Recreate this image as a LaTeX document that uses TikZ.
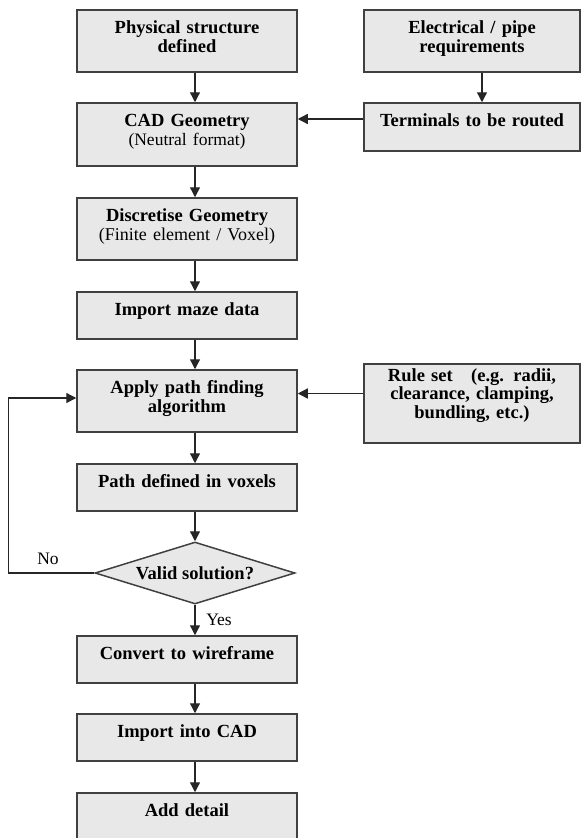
\documentclass[tikz,border=0pt]{standalone}
\usepackage{fontspec}
\setmainfont{Liberation Serif}
\usetikzlibrary{arrows.meta,shapes.geometric}
\definecolor{boxfill}{RGB}{232,232,232}
\definecolor{boxline}{RGB}{64,64,64}

\begin{document}
\begin{tikzpicture}[x=1pt,y=-1pt]
  \tikzstyle{box}=[draw=boxline, fill=boxfill, line width=1.5pt, text width=220pt, align=center, inner sep=0pt, text height=23pt, font=\fontsize{18.5}{19.5}\selectfont\bfseries]
  \tikzstyle{decision}=[diamond, draw=boxline, fill=boxfill, line width=1.5pt, aspect=3.2, minimum width=200pt, minimum height=62pt, inner sep=0pt, font=\fontsize{18.5}{19.5}\selectfont\bfseries]
  \tikzstyle{lbl}=[inner sep=0pt, font=\fontsize{17.5}{19.5}\selectfont]
  \tikzstyle{arr}=[-{Triangle[width=10pt,length=10pt]}, line width=1.3pt, black!85]

  \useasboundingbox (0,0) rectangle (581,838);

  % main column
  \node[box, text depth=39pt] (phys) at (187,41) {Physical structure\\defined};
  \node[box, text depth=40pt] (cad) at (187,134.5) {CAD Geometry\\{\mdseries\fontsize{17.5}{19.5}\selectfont (Neutral format)}};
  \node[box, text depth=39pt] (disc) at (187,229) {Discretise Geometry\\{\mdseries\fontsize{18}{19.5}\selectfont (Finite element / Voxel)}};
  \node[box, text depth=24pt] (maze) at (187,315.5) {Import maze data};
  \node[box, text depth=39pt] (apply) at (187,401) {Apply path finding\\algorithm};
  \node[box, text depth=24pt] (voxpath) at (187,487.5) {Path defined in voxels};
  \node[decision] (valid) at (195,573) {Valid solution?};
  \node[box, text depth=24pt] (wire) at (187,659.5) {Convert to wireframe};
  \node[box, text depth=24pt] (import) at (187,737.5) {Import into CAD};
  \node[box, text depth=24pt] (detail) at (187,816.5) {Add detail};

  % right column
  \node[box, text width=216pt, text depth=39pt] (elec) at (472,41) {Electrical / pipe\\requirements};
  \node[box, text width=216pt, text depth=25pt] (term) at (472,127) {Terminals to be routed};
  \node[box, text width=216pt, text height=17pt, text depth=62pt, font=\fontsize{18.5}{18.8}\selectfont\bfseries] (rules) at (472,403.5) {Rule set \ \ (e.g. radii,\\clearance, clamping,\\bundling, etc.)};

  \node[lbl] (no) at (48,559) {No};
  \node[lbl] (yes) at (219,620) {Yes};

  \draw[arr] ([xshift=8pt]phys.south) -- ([xshift=8pt]cad.north);
  \draw[arr] ([xshift=8pt]cad.south) -- ([xshift=8pt]disc.north);
  \draw[arr] ([xshift=8pt]disc.south) -- ([xshift=8pt]maze.north);
  \draw[arr] ([xshift=8pt]maze.south) -- ([xshift=8pt]apply.north);
  \draw[arr] ([xshift=8pt]apply.south) -- ([xshift=8pt]voxpath.north);
  \draw[arr] ([xshift=8pt]voxpath.south) -- (valid.north);
  \draw[arr] (valid.south) -- ([xshift=8pt]wire.north);
  \draw[arr] ([xshift=8pt]wire.south) -- ([xshift=8pt]import.north);
  \draw[arr] ([xshift=8pt]import.south) -- ([xshift=8pt]detail.north);

  \draw[arr] ([xshift=10pt]elec.south) -- ([xshift=10pt]term.north);
  \draw[arr] ([yshift=8pt]term.west) -- ([yshift=8pt]term.west -| cad.east);
  \draw[arr] ([yshift=10pt]rules.west) -- ([yshift=10pt]rules.west -| apply.east);
  \draw[arr] (valid.west) -- ++(-86,0) |- ([yshift=3pt]apply.west);
\end{tikzpicture}
\end{document}
